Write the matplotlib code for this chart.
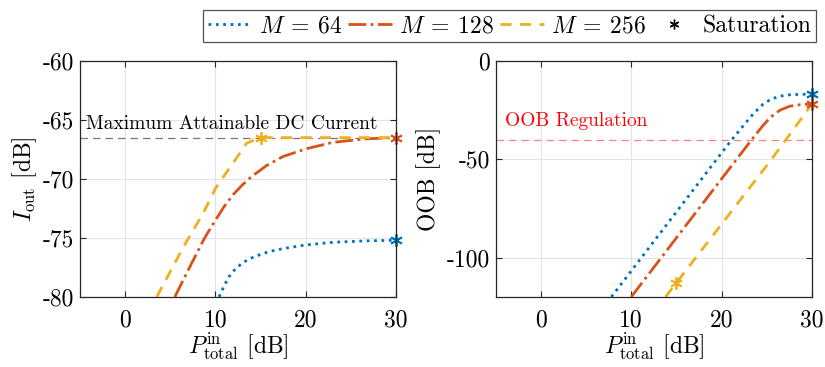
import matplotlib
matplotlib.use('Agg')
from matplotlib import pyplot as plt

plt.rcParams['font.family'] = 'serif'
plt.rcParams['font.serif'] = ['cmr10', 'DejaVu Serif']
plt.rcParams['mathtext.fontset'] = 'cm'
plt.rcParams['axes.unicode_minus'] = False
plt.rcParams['axes.formatter.use_mathtext'] = True

# colours (matlab defaults)
c_blue = '#0072BD'
c_red = '#D95319'
c_yel = '#EDB120'

# ---- left panel: I_out vs P_total ----
iout_x64 = [10.4, 11, 11.5, 12, 13, 14, 15, 16, 17.5, 20, 23, 26.75, 30]
iout_y64 = [-80, -79.0, -78.3, -77.8, -77.1, -76.7, -76.4, -76.15, -75.9, -75.6, -75.37, -75.25, -75.2]
iout_x128 = [5.5, 7, 8.8, 10, 11, 12, 13, 14, 15.7, 17.5, 20, 23, 26.75, 30]
iout_y128 = [-80, -77.7, -75, -73.5, -72.3, -71.3, -70.5, -69.8, -68.85, -68.1, -67.46, -66.9, -66.6, -66.5]
iout_x256 = [3.5, 6.5, 8.65, 10, 12, 13.46, 14.93, 30]
iout_y256 = [-80, -75.7, -72.9, -70.8, -68.6, -66.97, -66.5, -66.5]
iout_sat = {'64': (30, -75.2), '128': (30, -66.5), '256': (15, -66.5)}
max_dc = -66.5

# ---- right panel: OOB vs P_total ----
oob_x64 = [7.8, 10, 15, 19.5, 21.1, 22.4, 23.5, 24.6, 25.5, 26.5, 27.6, 30]
oob_y64 = [-120, -106.8, -76.8, -49.8, -40.3, -33.0, -27.0, -22.0, -19.4, -17.9, -17.2, -16.8]
oob_x128 = [10, 15, 20, 21.84, 23.3, 24.6, 25.5, 26.5, 27.56, 29, 30]
oob_y128 = [-120, -90, -60, -49, -40.3, -32.8, -28.3, -25, -23.0, -22.1, -22]
oob_x256 = [13.8, 25.5, 30]
oob_y256 = [-120, -50.3, -22]
oob_sat = {'64': (30, -16.8), '128': (30, -22), '256': (15, -112.7)}
oob_reg = -40

xticks = [0, 10, 20, 30]
iout_ticks = [-80, -75, -70, -65, -60]
oob_ticks = [-100, -50, 0]

star = (6, 2, 0)
fs = 17

fig = plt.figure(figsize=(8.25, 3.67), dpi=100)
ax1 = fig.add_axes([0.097, 0.191, 0.383, 0.643])
ax2 = fig.add_axes([0.601, 0.191, 0.383, 0.643])


def style_axes(ax):
    ax.grid(True, color='#e3e3e3', lw=0.8)
    ax.set_axisbelow(True)
    for s in ax.spines.values():
        s.set_color('#262626')
        s.set_linewidth(0.9)
    ax.tick_params(direction='in', top=True, right=True, labelsize=fs,
                   length=4, color='#262626')
    ax.tick_params(axis='x', pad=9)
    ax.tick_params(axis='y', pad=4)
    ax.set_xlim(-5, 30)
    ax.set_xticks(xticks)
    ax.set_xticklabels([str(t) for t in xticks])
    ax.set_xlabel(r'$P_{\mathrm{total}}^{\mathrm{in}}$ [dB]', fontsize=fs, labelpad=-1)


# left
ax1.axhline(max_dc, color='#777777', ls=(0, (6, 4)), lw=0.9, zorder=1)
ax1.plot(iout_x64, iout_y64, color=c_blue, ls=':', lw=2)
ax1.plot(iout_x128, iout_y128, color=c_red, ls='-.', lw=2)
ax1.plot(iout_x256, iout_y256, color=c_yel, ls='--', lw=2, dashes=(4, 3))
for key, col in [('64', c_blue), ('128', c_red), ('256', c_yel)]:
    ax1.plot(*iout_sat[key], marker=star, color=col, ms=9, mew=1.3, clip_on=False)
ax1.text(-4.3, -65.35, 'Maximum Attainable DC Current', fontsize=14, va='center')
ax1.set_ylim(-80, -60)
ax1.set_yticks(iout_ticks)
ax1.set_yticklabels([str(t) for t in iout_ticks])
ax1.set_ylabel(r'$I_{\mathrm{out}}$ [dB]', fontsize=fs, labelpad=3)
style_axes(ax1)

# right
ax2.axhline(oob_reg, color='#ff8080', ls=(0, (6, 4)), lw=0.9, zorder=1)
ax2.plot(oob_x64, oob_y64, color=c_blue, ls=':', lw=2)
ax2.plot(oob_x128, oob_y128, color=c_red, ls='-.', lw=2)
ax2.plot(oob_x256, oob_y256, color=c_yel, ls='--', lw=2, dashes=(4, 3))
for key, col in [('64', c_blue), ('128', c_red), ('256', c_yel)]:
    ax2.plot(*oob_sat[key], marker=star, color=col, ms=9, mew=1.3, clip_on=False)
ax2.text(-4.0, -30.5, 'OOB Regulation', fontsize=14, va='center', color='#ff0000')
ax2.set_ylim(-120, 0)
ax2.set_yticks(oob_ticks)
ax2.set_yticklabels([str(t) for t in oob_ticks])
ax2.set_ylabel('OOB [dB]', fontsize=fs, labelpad=4)
style_axes(ax2)

# legend
h1, = ax1.plot([], [], color=c_blue, ls=':', lw=2)
h2, = ax1.plot([], [], color=c_red, ls='-.', lw=2)
h3, = ax1.plot([], [], color=c_yel, ls='--', lw=2, dashes=(4, 3))
h4, = ax1.plot([], [], color='black', ls='none', marker=star, ms=7, mew=1)
leg = fig.legend([h1, h2, h3, h4],
                 [r'$M\:=\:64$', r'$M\:=\:128$', r'$M\:=\:256$', 'Saturation'],
                 loc='upper right', bbox_to_anchor=(0.995, 0.985), ncol=4, fontsize=fs,
                 frameon=True, fancybox=False, edgecolor='#262626', handlelength=1.85,
                 handletextpad=0.3, columnspacing=0.25, borderpad=0.2, borderaxespad=0.2)
leg.get_frame().set_linewidth(0.9)

fig.savefig('out.png', dpi=100)
